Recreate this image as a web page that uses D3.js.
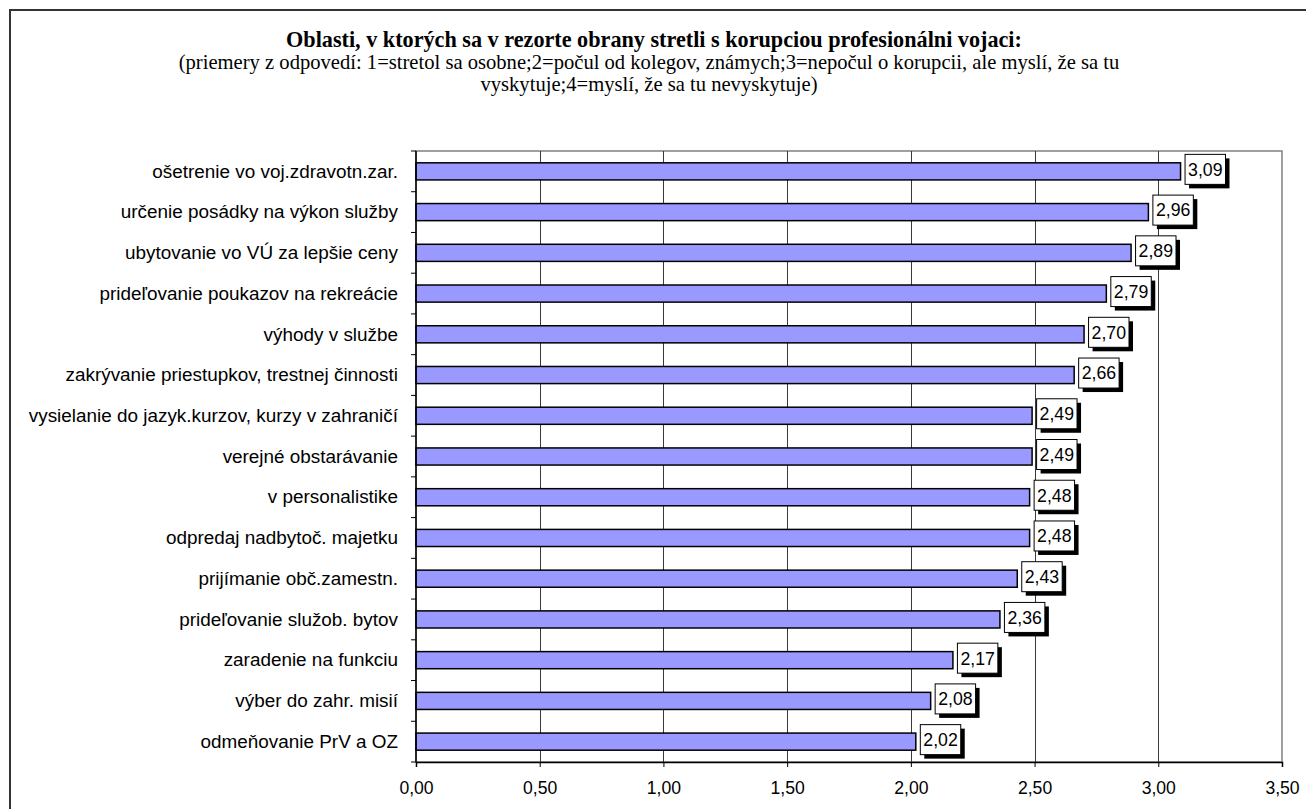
<!DOCTYPE html>
<html>
<head>
<meta charset="utf-8">
<script src="https://cdn.jsdelivr.net/npm/d3@7"></script>
<style>
  html, body { margin: 0; padding: 0; background: #fff; }
  svg { display: block; }
</style>
</head>
<body>
<svg id="chart" width="1306" height="809"></svg>
<script>
// Survey areas and mean answer scores (1 = met it personally ... 4 = thinks it does not occur)
const categories = [
  "ošetrenie vo voj.zdravotn.zar.",
  "určenie posádky na výkon služby",
  "ubytovanie vo VÚ za lepšie ceny",
  "prideľovanie poukazov na rekreácie",
  "výhody v službe",
  "zakrývanie priestupkov, trestnej činnosti",
  "vysielanie do jazyk.kurzov, kurzy v zahraničí",
  "verejné obstarávanie",
  "v personalistike",
  "odpredaj nadbytoč. majetku",
  "prijímanie obč.zamestn.",
  "prideľovanie služob. bytov",
  "zaradenie na funkciu",
  "výber do zahr. misií",
  "odmeňovanie PrV a OZ"
];
const values = [3.09, 2.96, 2.89, 2.79, 2.70, 2.66, 2.49, 2.49, 2.48, 2.48, 2.43, 2.36, 2.17, 2.08, 2.02];
const xTicks = [0, 0.5, 1.0, 1.5, 2.0, 2.5, 3.0, 3.5];

const titleText = "Oblasti, v ktorých sa v rezorte obrany stretli s korupciou profesionálni vojaci:";
const subtitleLines = [
  "(priemery z odpovedí: 1=stretol sa osobne;2=počul od kolegov, známych;3=nepočul o korupcii, ale myslí, že sa tu",
  "vyskytuje;4=myslí, že sa tu nevyskytuje)"
];

const fmt = v => d3.format(".2f")(v).replace(".", ",");

const svg = d3.select("#chart");
const plot = { left: 416, right: 1282, top: 151, bottom: 762 };
const sans = "'Liberation Sans', Arial, sans-serif";
const serif = "'Liberation Serif', 'Times New Roman', serif";

// Outer chart frame
svg.append("rect")
  .attr("x", 10).attr("y", 10)
  .attr("width", 1320).attr("height", 830)
  .attr("fill", "#fff").attr("stroke", "#333").attr("stroke-width", 2);

// Titles
const cx = 652;
svg.append("text")
  .attr("x", cx + 2).attr("y", 47)
  .attr("text-anchor", "middle")
  .attr("font-family", serif)
  .attr("font-weight", "bold").attr("font-size", 22.2)
  .text(titleText);
subtitleLines.forEach((line, i) => {
  svg.append("text")
    .attr("x", cx - 3).attr("y", 69 + i * 21.5)
    .attr("text-anchor", "middle")
    .attr("font-family", serif)
    .attr("font-size", 20.6)
    .text(line);
});

const x = d3.scaleLinear().domain([0, 3.5]).range([plot.left, plot.right]);
const y = d3.scaleBand().domain(categories).range([plot.top, plot.bottom]).padding(0);
const barH = y.bandwidth() * 0.42;

// Plot area border
svg.append("rect")
  .attr("x", plot.left).attr("y", plot.top)
  .attr("width", plot.right - plot.left).attr("height", plot.bottom - plot.top)
  .attr("fill", "none").attr("stroke", "#808080").attr("stroke-width", 1.5);

// Vertical gridlines
svg.append("g")
  .selectAll("line")
  .data(xTicks.slice(1, -1))
  .join("line")
  .attr("x1", d => Math.round(x(d)) + 0.5).attr("x2", d => Math.round(x(d)) + 0.5)
  .attr("y1", plot.top).attr("y2", plot.bottom)
  .attr("stroke", "#3a3a3a").attr("stroke-width", 1);

// Bars
svg.append("g")
  .selectAll("rect")
  .data(categories)
  .join("rect")
  .attr("x", x(0))
  .attr("y", (d) => y(d) + y.bandwidth() / 2 - barH / 2)
  .attr("width", (d, i) => x(values[i]) - x(0))
  .attr("height", barH)
  .attr("fill", "#9999FF")
  .attr("stroke", "#000").attr("stroke-width", 1.5);

// X axis
const xAxis = d3.axisBottom(x).tickValues(xTicks).tickFormat(fmt).tickSize(5).tickPadding(14.5);
const gx = svg.append("g").attr("transform", `translate(0,${plot.bottom})`).call(xAxis);
gx.select(".domain").attr("stroke", "#000").attr("stroke-width", 1.5);
gx.selectAll(".tick line").attr("stroke", "#000");
gx.selectAll(".tick text")
  .attr("font-family", sans)
  .attr("font-size", 17.6).attr("fill", "#000");

// Y axis: category labels and ticks on band edges
const gy = svg.append("g").attr("transform", `translate(${plot.left},0)`);
gy.append("line")
  .attr("x1", 0).attr("x2", 0).attr("y1", plot.top).attr("y2", plot.bottom)
  .attr("stroke", "#000").attr("stroke-width", 1.5);
const edges = categories.map(c => y(c)).concat([plot.bottom]);
gy.selectAll("line.edge")
  .data(edges)
  .join("line").attr("class", "edge")
  .attr("x1", -5).attr("x2", 0)
  .attr("y1", d => d).attr("y2", d => d)
  .attr("stroke", "#000");
gy.selectAll("text")
  .data(categories)
  .join("text")
  .attr("x", -18)
  .attr("y", d => y(d) + y.bandwidth() / 2)
  .attr("dy", "0.33em")
  .attr("text-anchor", "end")
  .attr("font-family", sans)
  .attr("font-size", 18.9)
  .text(d => d);

// Value labels in boxes with drop shadow
const lbl = svg.append("g");
categories.forEach((c, i) => {
  const v = values[i];
  const bx = x(v) + 4.5;
  const cy = y(c) + y.bandwidth() / 2 - 2;
  const g = lbl.append("g");
  const t = g.append("text")
    .attr("x", bx + 3).attr("y", cy)
    .attr("dy", "0.36em")
    .attr("font-family", sans)
    .attr("font-size", 17.7)
    .text(fmt(v));
  const w = t.node().getComputedTextLength() + 6;
  const h = 30;
  g.insert("rect", "text")
    .attr("x", bx + 4).attr("y", cy - h / 2 + 4)
    .attr("width", w).attr("height", h)
    .attr("fill", "#000");
  g.insert("rect", "text")
    .attr("x", bx).attr("y", cy - h / 2)
    .attr("width", w).attr("height", h)
    .attr("fill", "#fff").attr("stroke", "#000").attr("stroke-width", 1);
});
</script>
</body>
</html>
